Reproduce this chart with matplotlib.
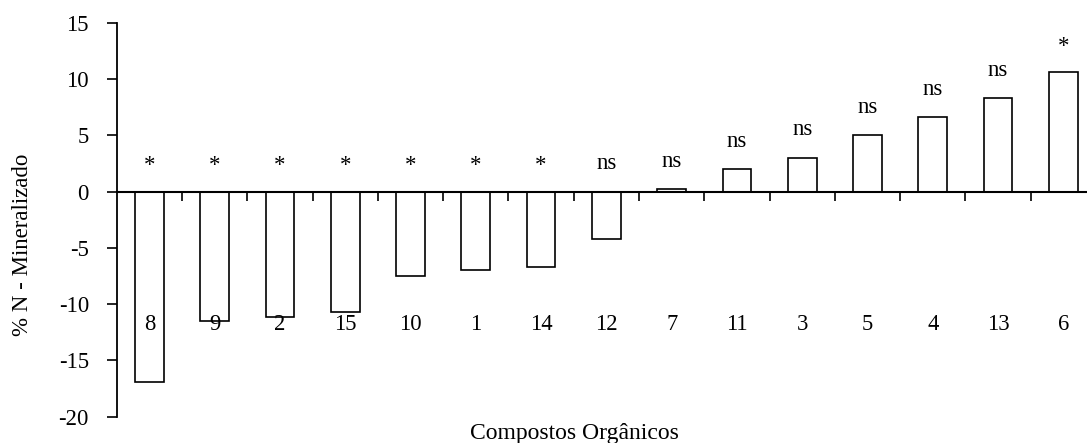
import matplotlib
matplotlib.use('Agg')
import matplotlib.pyplot as plt

# dados
compostos = ['8', '9', '2', '15', '10', '1', '14', '12', '7', '11', '3', '5', '4', '13', '6']
n_mineralizado = [-16.9, -11.5, -11.1, -10.7, -7.5, -7.0, -6.7, -4.2, 0.2, 2.0, 3.0, 5.0, 6.6, 8.3, 10.6]
signif = ['*', '*', '*', '*', '*', '*', '*', 'ns', 'ns', 'ns', 'ns', 'ns', 'ns', 'ns', '*']
yticks = [-20, -15, -10, -5, 0, 5, 10, 15]

plt.rcParams['font.family'] = ['Liberation Serif', 'DejaVu Serif']

W, H = 1087, 443
fig = plt.figure(figsize=(W / 100, H / 100), dpi=100)
# o eixo vai um pouco além da borda direita, como no original
ax = fig.add_axes([116.7 / W, 1 - 416.7 / H, (1096 - 116.7) / W, (416.7 - 22.7) / H])

x = list(range(len(compostos)))
ax.bar(x, n_mineralizado, width=0.44, color='white', edgecolor='black', linewidth=1.2)

ax.set_xlim(-0.5, len(compostos) - 0.5)
ax.set_ylim(-20, 15)
ax.set_yticks(yticks)
ax.set_yticklabels([str(v) for v in yticks], fontsize=16.3)
ax.tick_params(axis='y', direction='out', length=7, width=1.2, pad=13)

# marcas do eixo x nas divisões entre categorias
ax.set_xticks([i + 0.5 for i in x[:-1]])
ax.set_xticklabels([])
ax.tick_params(axis='x', direction='out', length=6.5, width=1.2)

ax.spines['top'].set_visible(False)
ax.spines['right'].set_visible(False)
ax.spines['bottom'].set_position(('data', 0))
ax.spines['bottom'].set_linewidth(1.5)
ax.spines['left'].set_linewidth(1.3)

offsets = {'*': 1.8, 'ns': 2.0}
for xi, v, s, c in zip(x, n_mineralizado, signif, compostos):
    ax.text(xi, max(v, 0) + offsets[s], s, ha='center', va='baseline', fontsize=16.5)
    ax.text(xi, -11.8, c, ha='center', va='center', fontsize=16.3)

fig.text(23 / W, 1 - 245 / H, '% N - Mineralizado', rotation=90, ha='center', va='center', fontsize=16.5)
fig.text(574 / W, 1 - 433 / H, 'Compostos Orgânicos', ha='center', va='center', fontsize=17)

fig.savefig('out.png', dpi=100)
